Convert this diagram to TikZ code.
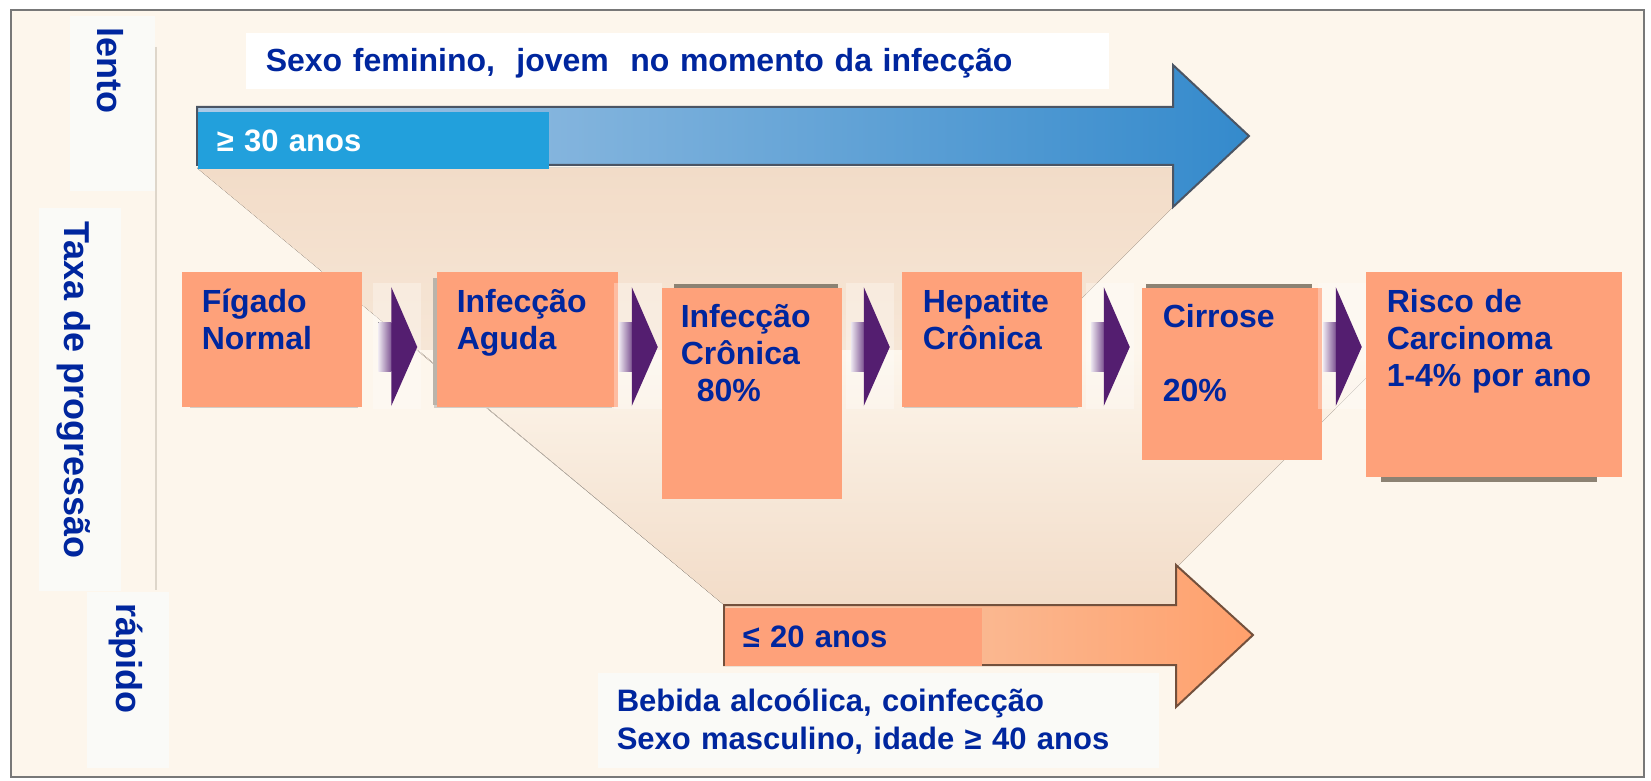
\documentclass[tikz,border=0pt]{standalone}
\usepackage{fontspec}
\setmainfont{Liberation Sans}
\usetikzlibrary{calc}

\definecolor{cream}{RGB}{253,246,236}
\definecolor{peach}{RGB}{242,220,200}
\definecolor{salmon}{RGB}{254,161,122}
\definecolor{navy}{RGB}{0,38,158}
\definecolor{skyblue}{RGB}{34,160,220}
\definecolor{paleblue}{RGB}{172,202,230}
\definecolor{deepblue}{RGB}{52,138,204}
\definecolor{paleorange}{RGB}{246,206,178}
\definecolor{deeporange}{RGB}{255,160,108}
\definecolor{plum}{RGB}{84,30,112}
\definecolor{offwhite}{RGB}{250,250,247}
\definecolor{framegray}{RGB}{120,120,120}
\definecolor{rulegray}{RGB}{222,214,202}
\definecolor{shadowgray}{RGB}{140,130,115}
\definecolor{blueedge}{RGB}{75,85,100}
\definecolor{orangeedge}{RGB}{115,80,60}

\tikzset{every picture/.style={line width=0.75pt}}
\tikzset{
  stage/.style={fill=salmon, inner sep=0, anchor=north west},
  stagetext/.style={anchor=base west, inner sep=0, text width=125pt, align=left, text=navy, font=\fontsize{16}{18.75}\selectfont\bfseries},
  sidebox/.style={fill=offwhite, inner sep=0, anchor=north west},
  sidetext/.style={rotate=-90, inner sep=0, text=navy, font=\fontsize{18}{20}\selectfont\bfseries},
  notebox/.style={inner sep=0, anchor=north west},
  notetext/.style={anchor=base west, inner sep=0, text width=420pt, align=left, font=\fontsize{15.5}{19}\selectfont\bfseries},
  chevron/.pic={
    \fill[white, opacity=0.3] (-26,-62) rectangle (22,64);
    \fill[left color=plum!10, right color=plum!75] (-21,-24) rectangle (-8,25);
    \fill[plum] (-8,-59) -- (18,0) -- (-8,60) -- cycle;
  }
}

\begin{document}
\begin{tikzpicture}[x=0.5pt,y=0.5pt,yscale=-1,xscale=1]
\useasboundingbox (0,0) rectangle (1651,781);

%Shape: Frame
\draw[draw=framegray, line width=1.2pt, fill=cream] (11,10) rectangle (1644,777);

%Shape: Funnel (upper and lower)
\fill[top color=peach, bottom color=cream] (197,168) -- (1173,168) -- (1173,207) -- (752,628) -- cycle;
\fill[top color=cream, bottom color=peach] (418,350) -- (1394,350) -- (1177,567) -- (1177,605) -- (724,605) -- cycle;

%Straight Lines: separator
\draw[rulegray, line width=1.2pt] (156,47) -- (156,590);

%Shape: side labels
\node[sidebox, minimum width=42.5pt, minimum height=87.5pt] (slowbox) at (69,15) {};
\node[sidebox, minimum width=41pt, minimum height=191.5pt] (ratebox) at (38,207) {};
\node[sidebox, minimum width=41pt, minimum height=88pt] (fastbox) at (86,591) {};
% Text Node
\node[sidetext] (slow) at (110,70) {lento};
% Text Node
\node[sidetext] (rate) at (74,390) {Taxa de progressão};
% Text Node
\node[sidetext] (fast) at (126,658) {rápido};

%Shape: Blue arrow
\draw[draw=blueedge, line width=1pt, left color=paleblue, right color=deepblue] (197,107) -- (1173,107) -- (1173,65) -- (1249,136) -- (1173,207) -- (1173,165) -- (197,165) -- cycle;
%Shape: Orange arrow
\draw[draw=orangeedge, line width=1pt, left color=paleorange, right color=deeporange] (724,605) -- (1176,605) -- (1176,565) -- (1253,635) -- (1176,707) -- (1176,665) -- (724,665) -- cycle;

%Shape: note boxes
\node[notebox, fill=white, minimum width=431.5pt, minimum height=28pt] (femalebox) at (245,32) {};
\node[notebox, fill=skyblue, minimum width=175.5pt, minimum height=28.5pt] (oldbox) at (197,111) {};
\node[notebox, fill=salmon, minimum width=128.5pt, minimum height=29pt] (youngbox) at (724,607) {};
\node[notebox, fill=offwhite, minimum width=280.5pt, minimum height=47.5pt] (riskbox) at (597,672) {};
% Text Node
\node[notetext, text=navy, font=\fontsize{16}{19}\selectfont\bfseries] (female) at ([shift={(20,40)}]femalebox.north west) {Sexo feminino,~ jovem~ no momento da infecção};
% Text Node
\node[notetext, text=white] (old) at ([shift={(19,41)}]oldbox.north west) {≥ 30 anos};
% Text Node
\node[notetext, text=navy] (young) at ([shift={(18,40)}]youngbox.north west) {≤ 20 anos};
% Text Node
\node[notetext, text=navy] (risk) at ([shift={(19,39)}]riskbox.north west) {Bebida alcoólica, coinfecção\\Sexo masculino, idade ≥ 40 anos};

%Shape: box shadows
\fill[shadowgray] (674,284) rectangle (838,288);
\fill[shadowgray] (1146,284) rectangle (1312,288);
\fill[shadowgray] (1381,470) rectangle (1597,482);
\fill[shadowgray!40] (190,405) rectangle (358,408);
\fill[shadowgray!40] (434,405) rectangle (612,408);
\fill[shadowgray!40] (904,405) rectangle (1078,408);
\fill[shadowgray!60] (433,278) rectangle (437,405);

%Shape: stages
\node[stage, minimum width=90pt, minimum height=67.5pt] (fig) at (181,271) {};
\node[stage, minimum width=90.5pt, minimum height=67.5pt] (agu) at (436,271) {};
\node[stage, minimum width=90pt, minimum height=105.5pt] (cro) at (661,287) {};
\node[stage, minimum width=90pt, minimum height=67.5pt] (hep) at (901,271) {};
\node[stage, minimum width=90pt, minimum height=86pt] (cir) at (1141,287) {};
\node[stage, minimum width=128pt, minimum height=102.5pt] (ris) at (1365,271) {};

% Text Node
\node[stagetext] (figt) at ([shift={(20,41)}]fig.north west) {Fígado\\Normal};
% Text Node
\node[stagetext] (agut) at ([shift={(20,41)}]agu.north west) {Infecção\\Aguda};
% Text Node
\node[stagetext] (crot) at ([shift={(19,40)}]cro.north west) {Infecção\\Crônica\\\hspace*{8pt}80\%};
% Text Node
\node[stagetext] (hept) at ([shift={(21,41)}]hep.north west) {Hepatite\\Crônica};
% Text Node
\node[stagetext] (cirt) at ([shift={(21,40)}]cir.north west) {Cirrose\\\mbox{}\\20\%};
% Text Node
\node[stagetext] (rist) at ([shift={(21,41)}]ris.north west) {Risco de\\Carcinoma\\1-4\% por ano};

%Shape: chevrons between stages
\coordinate (row) at (0,347);
\path ($(fig.east)!0.5!(agu.west)$) coordinate (m1);
\path ($(agu.east)!0.5!(cro.west)$) coordinate (m2);
\path ($(cro.east)!0.5!(hep.west)$) coordinate (m3);
\path ($(hep.east)!0.5!(cir.west)$) coordinate (m4);
\path ($(cir.east)!0.5!(ris.west)$) coordinate (m5);
\pic at (m1 |- row) {chevron};
\pic at (m2 |- row) {chevron};
\pic at (m3 |- row) {chevron};
\pic at (m4 |- row) {chevron};
\pic at (m5 |- row) {chevron};

\end{tikzpicture}
\end{document}
